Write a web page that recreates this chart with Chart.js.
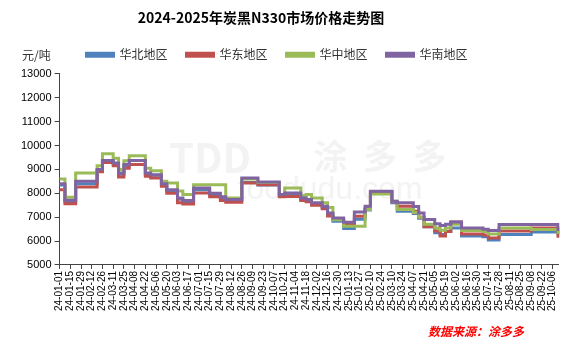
<!DOCTYPE html>
<html>
<head>
<meta charset="utf-8">
<script src="https://cdn.jsdelivr.net/npm/chart.js@4.4.1/dist/chart.umd.min.js"></script>
<style>
    html, body { margin: 0; padding: 0; background: #fff; }
    #wrap { width: 567px; height: 360px; position: relative; }
</style>
</head>
<body>
<div id="wrap"><canvas id="priceChart"></canvas></div>
<script>
// weekly dates (Monday), every second one is shown on the axis
const weeks = [
    '24-01-01', '24-01-08', '24-01-15', '24-01-22', '24-01-29', '24-02-05', '24-02-12', '24-02-19', '24-02-26',
    '24-03-04', '24-03-11', '24-03-18', '24-03-25', '24-04-01', '24-04-08', '24-04-15', '24-04-22', '24-04-29',
    '24-05-06', '24-05-13', '24-05-20', '24-05-27', '24-06-03', '24-06-10', '24-06-17', '24-06-24',
    '24-07-01', '24-07-08', '24-07-15', '24-07-22', '24-07-29', '24-08-05', '24-08-12', '24-08-19', '24-08-26',
    '24-09-02', '24-09-09', '24-09-16', '24-09-23', '24-09-30', '24-10-07', '24-10-14', '24-10-21', '24-10-28',
    '24-11-04', '24-11-11', '24-11-18', '24-11-25', '24-12-02', '24-12-09', '24-12-16', '24-12-23', '24-12-30',
    '25-01-06', '25-01-13', '25-01-20', '25-01-27', '25-02-03', '25-02-10', '25-02-17', '25-02-24',
    '25-03-03', '25-03-10', '25-03-17', '25-03-24', '25-03-31', '25-04-07', '25-04-14', '25-04-21', '25-04-28',
    '25-05-05', '25-05-12', '25-05-19', '25-05-26', '25-06-02', '25-06-09', '25-06-16', '25-06-23', '25-06-30',
    '25-07-07', '25-07-14', '25-07-21', '25-07-28', '25-08-04', '25-08-11', '25-08-18', '25-08-25',
    '25-09-01', '25-09-08', '25-09-15', '25-09-22', '25-09-29', '25-10-06', '25-10-13'
];

// 华北地区
const north = [
    8350, 7650, 7650, 8400, 8400, 8400, 8400, 8950, 9370, 9370,
    9250, 8800, 9150, 9370, 9370, 9370, 8800, 8750, 8750, 8350,
    8100, 8100, 7750, 7650, 7650, 8150, 8150, 8150, 7950, 7950,
    7800, 7720, 7720, 7720, 8450, 8450, 8450, 8350, 8350, 8350,
    8350, 7900, 7950, 7950, 7950, 7750, 7700, 7550, 7550, 7400,
    7100, 6830, 6830, 6530, 6530, 6910, 6910, 7300, 8050, 8050,
    8050, 8050, 7600, 7250, 7250, 7250, 7150, 6950, 6600, 6600,
    6350, 6280, 6400, 6550, 6550, 6210, 6210, 6210, 6210, 6180,
    6050, 6050, 6280, 6280, 6280, 6280, 6280, 6280, 6380, 6380,
    6380, 6380, 6380, 6250
];
// 华东地区
const east = [
    8150, 7560, 7560, 8260, 8260, 8260, 8260, 8900, 9290, 9290,
    9150, 8680, 9050, 9200, 9200, 9200, 8710, 8640, 8640, 8290,
    8000, 8000, 7600, 7550, 7550, 8010, 8010, 8010, 7850, 7850,
    7700, 7620, 7620, 7620, 8430, 8430, 8430, 8360, 8360, 8360,
    8360, 7850, 7870, 7870, 7870, 7700, 7650, 7500, 7500, 7350,
    7050, 6900, 6900, 6700, 6700, 7040, 7040, 7350, 8050, 8050,
    8050, 8050, 7650, 7460, 7460, 7460, 7250, 7000, 6600, 6600,
    6420, 6210, 6400, 6800, 6800, 6300, 6300, 6300, 6300, 6250,
    6130, 6130, 6420, 6420, 6420, 6420, 6420, 6420, 6550, 6550,
    6550, 6550, 6550, 6140
];
// 华中地区
const central = [
    8600, 7830, 7830, 8850, 8850, 8850, 8850, 9150, 9650, 9650,
    9470, 8990, 9360, 9570, 9570, 9570, 9050, 8940, 8940, 8500,
    8430, 8430, 8100, 7950, 7950, 8360, 8360, 8360, 8360, 8360,
    8360, 7800, 7800, 7800, 8600, 8600, 8600, 8450, 8450, 8450,
    8450, 7950, 8220, 8220, 8220, 7900, 7950, 7800, 7800, 7600,
    7400, 6890, 6890, 6625, 6625, 6625, 6625, 7320, 7970, 7970,
    7970, 7970, 7670, 7320, 7320, 7320, 7200, 7000, 6700, 6700,
    6550, 6450, 6550, 6700, 6700, 6440, 6440, 6440, 6440, 6400,
    6300, 6300, 6550, 6550, 6550, 6550, 6550, 6550, 6480, 6480,
    6480, 6480, 6480, 6300
];
// 华南地区
const south = [
    8400, 7710, 7710, 8500, 8500, 8500, 8500, 8990, 9370, 9370,
    9270, 8850, 9200, 9370, 9370, 9370, 8850, 8780, 8780, 8400,
    8150, 8150, 7800, 7700, 7700, 8220, 8220, 8220, 8000, 8000,
    7850, 7740, 7740, 7740, 8640, 8640, 8640, 8470, 8470, 8470,
    8470, 7950, 8010, 8010, 8010, 7800, 7740, 7600, 7600, 7460,
    7180, 6970, 6970, 6790, 6790, 7220, 7220, 7460, 8080, 8080,
    8080, 8080, 7670, 7600, 7600, 7600, 7450, 7180, 6900, 6900,
    6720, 6650, 6700, 6800, 6800, 6550, 6550, 6550, 6550, 6500,
    6440, 6440, 6690, 6690, 6690, 6690, 6690, 6690, 6690, 6690,
    6690, 6690, 6690, 6420
];

const regionNames = ['华北地区', '华东地区', '华中地区', '华南地区'];
const regionColors = ['#4F81BD', '#C0504D', '#9BBB59', '#8064A2'];
const yTicks = [5000, 6000, 7000, 8000, 9000, 10000, 11000, 12000, 13000];

const cjk = "'Noto Sans CJK SC', sans-serif";
const latin = "'Liberation Sans', Arial, sans-serif";

// extra texts: unit, source, faint watermark; nudges title/legend left
const extraText = {
    id: 'extraText',
    beforeInit(chart) {
        // a little more room under the legend
        const fitLegend = chart.legend.fit;
        chart.legend.fit = function () {
            fitLegend.call(this);
            this.height += 3;
        };
    },
    afterLayout(chart) {
        chart.titleBlock.left -= 27;
        chart.titleBlock.right -= 27;
        chart.legend.left -= 11;
        chart.legend.right -= 11;
    },
    beforeDatasetsDraw(chart) {
        const {ctx} = chart;
        ctx.save();
        ctx.fillStyle = 'rgba(200,200,200,0.22)';
        ctx.textAlign = 'center';
        ctx.textBaseline = 'middle';
        ctx.font = "bold 40px " + cjk;
        ctx.fillText('TDD', 210, 158);
        ctx.font = "bold 34px " + cjk;
        ctx.fillText('涂  多  多', 380, 156);
        ctx.font = "32px " + latin;
        ctx.fillText('toodudu.com', 330, 190);
        ctx.restore();
    },
    afterDraw(chart) {
        const {ctx} = chart;
        ctx.save();
        ctx.fillStyle = '#333';
        ctx.font = "12px " + cjk;
        ctx.textBaseline = 'middle';
        ctx.fillText('元/吨', 22, 55);
        ctx.fillStyle = '#FF0000';
        ctx.font = "italic bold 12px " + cjk;
        ctx.fillText('数据来源：涂多多', 428, 331);
        ctx.restore();
    }
};

const datasets = [north, east, central, south].map((vals, i) => ({
    label: regionNames[i],
    data: vals,
    borderColor: regionColors[i],
    backgroundColor: regionColors[i],
    borderWidth: 3,
    pointRadius: 0,
    stepped: true,
    fill: false,
    order: 4 - i
}));

const ctx = document.getElementById('priceChart').getContext('2d');
new Chart(ctx, {
    type: 'line',
    data: {labels: weeks, datasets: datasets},
    options: {
        responsive: true,
        maintainAspectRatio: false,
        animation: false,
        layout: {padding: {left: 18, right: 9, top: 0, bottom: 47}},
        plugins: {
            title: {
                display: true,
                text: '2024-2025年炭黑N330市场价格走势图',
                color: '#000',
                font: {family: cjk, size: 14, weight: 'bold'},
                padding: {top: 9, bottom: 4}
            },
            legend: {
                display: true,
                position: 'top',
                labels: {
                    sort: (a, b) => a.datasetIndex - b.datasetIndex,
                    boxWidth: 27,
                    boxHeight: 3,
                    color: '#333',
                    font: {family: cjk, size: 12},
                    padding: 19
                }
            },
            tooltip: {enabled: false}
        },
        scales: {
            x: {
                offset: false,
                grid: {display: true, drawOnChartArea: false, drawTicks: true, tickLength: 4, color: '#444'},
                border: {display: true, color: '#444', width: 1},
                afterBuildTicks: (scale) => {
                    scale.ticks = scale.ticks.filter((t, i) => i % 2 === 0);
                },
                ticks: {
                    autoSkip: false,
                    minRotation: 90,
                    maxRotation: 90,
                    color: '#000',
                    padding: 2,
                    font: {family: latin, size: 10}
                }
            },
            y: {
                min: 5000,
                max: 13000,
                afterBuildTicks: (scale) => {
                    scale.ticks = yTicks.map(v => ({value: v}));
                },
                grid: {display: true, drawOnChartArea: false, drawTicks: true, tickLength: 5, color: '#444'},
                border: {display: true, color: '#444', width: 1},
                ticks: {
                    color: '#000',
                    padding: 3,
                    font: {family: latin, size: 11},
                    callback: (v) => String(v)
                }
            }
        }
    },
    plugins: [extraText]
});
</script>
</body>
</html>
